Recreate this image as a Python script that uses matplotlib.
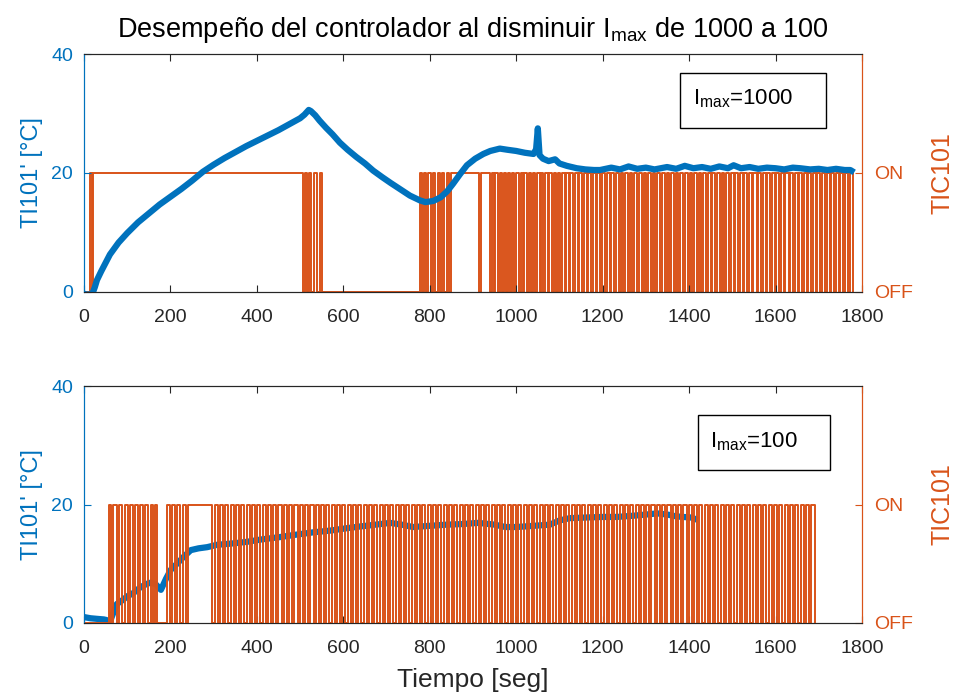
import matplotlib.pyplot as plt
from matplotlib.patches import Rectangle

plt.rcParams['font.family'] = ['Liberation Sans', 'DejaVu Sans']

BLUE = '#0072BD'
ORANGE = '#D95319'
DARK = '#262626'

# temperatura, panel de arriba (Imax = 1000)
top_time = [0, 10, 20, 25, 30, 40, 60, 80, 100, 125, 150, 175, 200, 225, 250, 275, 300, 325, 350,
            375, 400, 425, 450, 475, 500, 510, 520, 525, 535, 545, 560, 575, 592, 610, 630, 650,
            669, 690, 710, 731, 754, 777, 790, 808, 825, 840, 854, 870, 886, 905, 924, 940, 962,
            980, 1000, 1020, 1040, 1046, 1050, 1054, 1062, 1075, 1090, 1100, 1117, 1140, 1160,
            1180, 1194, 1220, 1240, 1260, 1280, 1300, 1320, 1349, 1370, 1390, 1410, 1430, 1450,
            1470, 1490, 1503, 1520, 1540, 1560, 1580, 1600, 1620, 1640, 1657, 1680, 1700, 1720,
            1740, 1760, 1773, 1782]
top_temp = [-0.3, -0.5, -0.2, 0.8, 2.0, 3.5, 6.3, 8.3, 9.9, 11.7, 13.2, 14.7, 16.0, 17.3, 18.7,
            20.2, 21.4, 22.5, 23.5, 24.5, 25.4, 26.3, 27.2, 28.2, 29.2, 29.8, 30.6, 30.4, 29.7,
            28.8, 27.6, 26.5, 25.1, 23.9, 22.7, 21.6, 20.4, 19.3, 18.3, 17.3, 16.2, 15.4, 15.1,
            15.3, 15.9, 16.9, 18.2, 19.8, 21.3, 22.4, 23.2, 23.7, 24.1, 23.9, 23.7, 23.4, 23.2,
            24.0, 27.5, 23.0, 22.4, 22.0, 22.3, 21.6, 21.2, 20.8, 20.6, 20.5, 20.5, 20.9, 20.6,
            21.1, 20.7, 20.9, 20.6, 21.0, 20.7, 21.2, 20.8, 21.0, 20.7, 21.1, 20.8, 21.3, 20.8,
            21.0, 20.7, 20.9, 20.8, 20.6, 20.9, 20.8, 20.6, 20.7, 20.5, 20.7, 20.5, 20.5, 20.1]

# temperatura, panel de abajo (Imax = 100)
bot_time = [0, 15, 30, 46, 52, 58, 64, 76, 90, 100, 115, 130, 145, 154, 165, 178, 190, 201, 215,
            231, 247, 265, 285, 308, 340, 377, 410, 453, 490, 530, 570, 608, 640, 675, 708, 735,
            761, 800, 840, 875, 912, 950, 975, 1001, 1040, 1078, 1100, 1124, 1160, 1200, 1233,
            1270, 1300, 1326, 1350, 1370, 1386, 1405, 1420]
bot_temp = [1.0, 0.8, 0.7, 0.6, 0.5, -0.3, 1.0, 3.2, 3.9, 4.5, 5.1, 6.0, 6.6, 6.8, 6.6, 5.6, 7.5,
            9.0, 10.0, 11.2, 12.3, 12.6, 12.8, 13.2, 13.4, 13.7, 14.1, 14.5, 14.9, 15.3, 15.6,
            16.0, 16.3, 16.6, 16.9, 16.6, 16.2, 16.4, 16.6, 16.7, 16.9, 16.6, 16.2, 16.2, 16.4,
            16.6, 17.3, 17.7, 17.8, 17.9, 17.9, 18.1, 18.3, 18.5, 18.3, 18.0, 17.9, 17.8, 17.4]

# TIC101: tramos encendidos (inicio, fin) y apagados cortos dentro de ellos
top_on = [(14, 19), (21, 506), (511, 516), (521, 525), (532, 538), (546, 551),
          (777, 782), (787, 792), (797, 802), (808, 813), (818, 823), (829, 834),
          (839, 845), (850, 1780)]
top_dips = [915, 939, 948, 958, 967, 977, 986, 996, 1006, 1015, 1025, 1034, 1044, 1054, 1063,
            1073, 1083, 1092, 1102, 1112, 1121, 1132, 1142, 1153, 1163, 1174, 1184, 1195, 1206,
            1216, 1227, 1238, 1248, 1259, 1269, 1280, 1291, 1301, 1312, 1322, 1333, 1344, 1354,
            1365, 1375, 1386, 1397, 1407, 1418, 1428, 1439, 1450, 1460, 1471, 1481, 1492, 1503,
            1513, 1524, 1534, 1545, 1556, 1566, 1577, 1587, 1598, 1609, 1619, 1630, 1640, 1651,
            1662, 1672, 1683, 1693, 1704, 1715, 1725, 1736, 1746, 1757, 1768]
top_dip_len = 4

bot_on = [(58, 170), (193, 1692)]
bot_dips = [63, 76, 89, 101, 113, 125, 137, 149, 160, 199, 211, 223, 235,
            297, 309, 321, 334, 346, 358, 371, 383, 395, 408, 420, 432, 445, 457, 469, 482,
            494, 506, 519, 531, 543, 556, 568, 580, 593, 605, 617, 630, 642, 654, 667, 679,
            691, 704, 716, 728, 741, 753, 765, 778, 790, 802, 815, 827, 839, 852, 864, 876,
            889, 901, 913, 926, 938, 950, 963, 975, 987, 1000, 1012, 1024, 1037, 1049, 1061,
            1074, 1086, 1098, 1111, 1123, 1135, 1148, 1160, 1172, 1185, 1197, 1209, 1222, 1234,
            1246, 1259, 1271, 1283, 1296, 1308, 1320, 1333, 1345, 1357, 1370, 1382, 1394, 1407,
            1419, 1431, 1444, 1456, 1468, 1481, 1493, 1505, 1518, 1530, 1542, 1555, 1567, 1579,
            1592, 1604, 1616, 1629, 1641, 1653, 1666, 1678]
bot_dip_len = 5

xticks = [0, 200, 400, 600, 800, 1000, 1200, 1400, 1600, 1800]


def switch_signal(on_blocks, dips, dip_len):
    ev = [(0, 0)]
    for a, b in on_blocks:
        ev += [(a, 1), (b, 0)]
    for d in dips:
        ev += [(d, 0), (d + dip_len, 1)]
    ev.sort(key=lambda e: e[0])
    return [e[0] for e in ev], [e[1] for e in ev]


def panel(rect, t, temp, on_blocks, dips, dip_len, label, box, txt_pos, blue_front):
    ax = fig.add_axes(rect)
    ax2 = ax.twinx()
    ax.plot(t, temp, color=BLUE, lw=4.5, solid_capstyle='butt')
    st, sv = switch_signal(on_blocks, dips, dip_len)
    ax2.step(st, sv, where='post', color=ORANGE, lw=1.4)
    if blue_front:
        ax.set_zorder(ax2.get_zorder() + 1)
        ax.patch.set_visible(False)

    ax.set_xlim(0, 1800)
    ax.set_ylim(0, 40)
    ax2.set_ylim(0, 2)
    ax.set_xticks(xticks)
    ax.set_yticks([0, 20, 40])
    ax2.set_yticks([0, 1], ['OFF', 'ON'])
    ax.tick_params(axis='x', direction='in', top=True, length=5, width=0.8,
                   colors=DARK, labelsize=14, pad=12)
    ax.tick_params(axis='y', direction='in', length=5, width=0.8, colors=BLUE, labelsize=14, pad=8)
    ax2.tick_params(axis='y', direction='in', length=5, width=0.8, colors=ORANGE, labelsize=14, pad=9)
    for a in (ax, ax2):
        a.spines['left'].set_color(BLUE)
        a.spines['right'].set_color(ORANGE)
        a.spines['top'].set_color(DARK)
        a.spines['bottom'].set_color(DARK)
        for s in a.spines.values():
            s.set_linewidth(0.8)
    ax.set_ylabel("TI101' [°C]", color=BLUE, fontsize=17, labelpad=6)
    ax2.set_ylabel('TIC101', color=ORANGE, fontsize=18, rotation=90, labelpad=12)

    x0, y0, x1, y1 = box
    ax.add_patch(Rectangle((x0, y0), x1 - x0, y1 - y0, transform=ax.transAxes,
                           fill=True, facecolor='white', edgecolor='black', lw=1, zorder=5))
    ax.text(txt_pos[0], txt_pos[1], label, transform=ax.transAxes, fontsize=16,
            va='baseline', ha='left', zorder=6)
    return ax


fig = plt.figure(figsize=(9.6, 6.95), dpi=100)

ax_top = panel([0.0875, 0.5799, 0.8104, 0.3424], top_time, top_temp, top_on, top_dips,
               top_dip_len, r'$\mathregular{I_{max}}$=1000',
               (0.766, 0.689, 0.954, 0.920), (0.783, 0.79), True)
ax_top.set_title(r'Desempeño del controlador al disminuir $\mathregular{I_{max}}$ de 1000 a 100',
                 fontsize=19.5, pad=12)

ax_bot = panel([0.0875, 0.1036, 0.8104, 0.3410], bot_time, bot_temp, bot_on, bot_dips,
               bot_dip_len, r'$\mathregular{I_{max}}$=100',
               (0.789, 0.646, 0.959, 0.878), (0.805, 0.74), False)
ax_bot.set_xlabel('Tiempo [seg]', fontsize=19, color=DARK, labelpad=8)

fig.savefig('out.png', dpi=100)
